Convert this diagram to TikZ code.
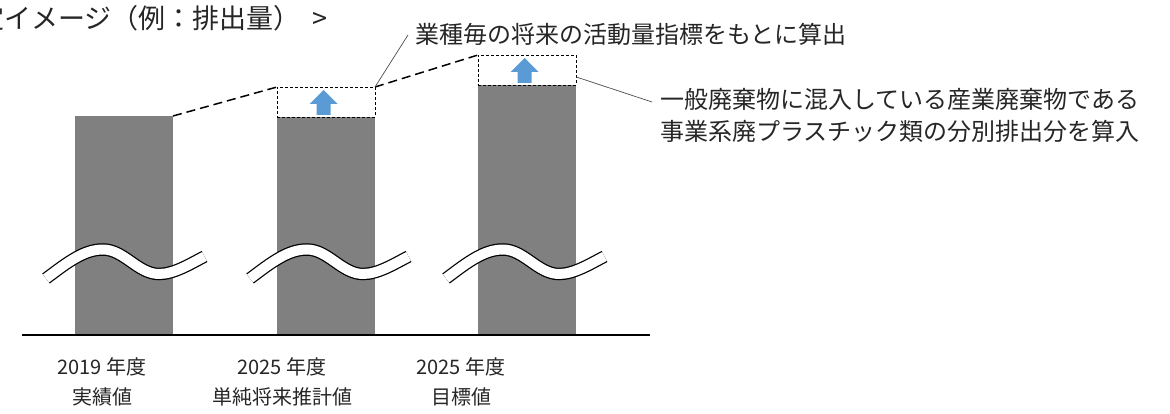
\documentclass[tikz,border=0pt]{standalone}
\usepackage{fontspec}
\usetikzlibrary{calc}
\setmainfont{Noto Sans CJK JP}
\definecolor{bargray}{HTML}{808080}
\definecolor{arrowblue}{HTML}{5B9BD5}
\definecolor{txt}{HTML}{262626}
\begin{document}
\begin{tikzpicture}[x=1pt,y=-1pt,
  bar/.style={fill=bargray,draw=none,inner sep=0,outer sep=0,minimum width=98pt},
  addbox/.style={draw=black,dashed,dash pattern=on 3pt off 2pt,line width=0.9pt,fill=white,inner sep=0,outer sep=0,minimum width=98pt,minimum height=30pt},
  trend/.style={draw=black,line width=1.5pt,dash pattern=on 9pt off 5pt},
  leader/.style={draw=black!70,line width=0.7pt},
  note/.style={text=txt,inner sep=0pt,font=\fontsize{24pt}{32pt}\selectfont,align=left},
  cat/.style={text=txt,inner sep=0pt,font=\fontsize{20pt}{30pt}\selectfont,align=center},
  uparrow/.pic={\fill[arrowblue] (0,-12.5) -- (14,1.5) -- (7,1.5) -- (7,12.5) -- (-7,12.5) -- (-7,1.5) -- (-14,1.5) -- cycle;},
  brk/.pic={
    \draw[line width=12.5pt,black] (0,278.5) .. controls (22,262) and (38,249.5) .. (57,249.5) .. controls (78,249.5) and (92,274) .. (113,274) .. controls (128,274) and (144,264) .. (158.5,256.5);
    \draw[line width=10pt,white] (0,278.5) .. controls (22,262) and (38,249.5) .. (57,249.5) .. controls (78,249.5) and (92,274) .. (113,274) .. controls (128,274) and (144,264) .. (158.5,256.5);
  }]
\useasboundingbox (0,0) rectangle (1170,414);
\fill[white] (0,0) rectangle (1170,414);

% title
\node[anchor=west,text=txt,inner sep=0,font=\fontsize{27pt}{30pt}\selectfont] (title) at (-23,18) {定イメージ（例：排出量）\hspace{12pt}>};

% bars
\node[bar,minimum height=219pt] (bar1) at (124,225.5) {};
\node[bar,minimum height=218pt] (bar2) at (326,226) {};
\node[bar,minimum height=250pt] (bar3) at (527,210) {};
\node[addbox] (box2) at (326,102) {};
\node[addbox] (box3) at (527,70) {};
\pic at ($(box2.center)+(-2.5,0.5)$) {uparrow};
\pic at ($(box3.center)+(-2.5,0.5)$) {uparrow};

% axis
\coordinate (axL) at (22,335);
\coordinate (axR) at (650,335);
\draw[line width=2.5pt] (axL) -- (axR);

% breaks
\pic at (46,0) {brk};
\pic at (250,0) {brk};
\pic at (446,0) {brk};

% trend lines
\draw[trend] (bar1.north east) -- (box2.north west);
\draw[trend] (box2.north east) -- (box3.north west);

% notes
\node[note,anchor=west] (note1) at (415,34) {業種毎の将来の活動量指標をもとに算出};
\node[note,anchor=north west] (note2) at (660,88) {一般廃棄物に混入している産業廃棄物である\\事業系廃プラスチック類の分別排出分を算入};
\coordinate (lead1) at (408,35);
\coordinate (lead2) at (652,102);
\draw[leader] (box2.north east) -- (lead1);
\draw[leader] ($(box3.south east)!0.27!(box3.north east)$) -- (lead2);

% category labels
\node[cat] (lab1) at (102,382) {2019 年度\\実績値};
\node[cat] (lab2) at (282,382) {2025 年度\\単純将来推計値};
\node[cat] (lab3) at (461,382) {2025 年度\\目標値};
\end{tikzpicture}
\end{document}
